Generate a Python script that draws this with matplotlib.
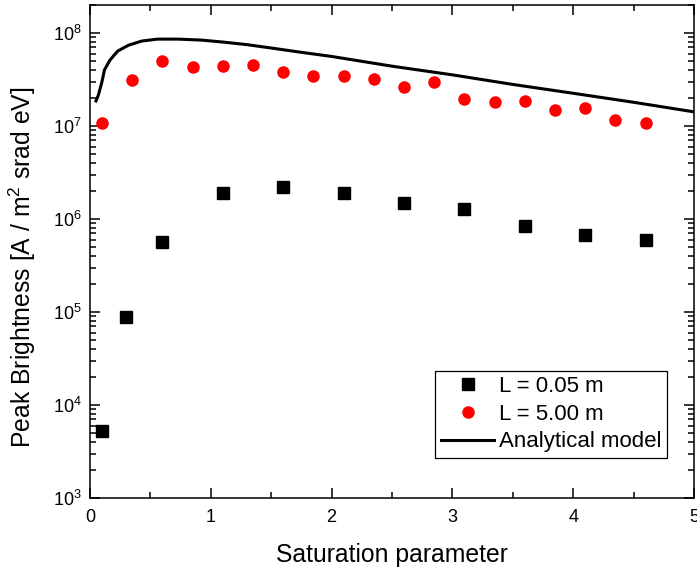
import matplotlib
matplotlib.use("Agg")
import matplotlib.pyplot as plt
from matplotlib.ticker import LogLocator, MultipleLocator, NullFormatter

plt.rcParams["font.family"] = ["Liberation Sans", "DejaVu Sans"]
plt.rcParams["mathtext.fontset"] = "custom"
plt.rcParams["mathtext.rm"] = "Liberation Sans"
plt.rcParams["mathtext.it"] = "Liberation Sans:italic"

# L = 0.05 m (squares)
x_short = [0.1, 0.3, 0.6, 1.1, 1.6, 2.1, 2.6, 3.1, 3.6, 4.1, 4.6]
y_short = [5.3e3, 8.8e4, 5.7e5, 1.9e6, 2.2e6, 1.9e6, 1.49e6, 1.28e6, 8.4e5, 6.7e5, 5.9e5]

# L = 5.00 m (circles)
x_long = [0.1, 0.35, 0.6, 0.85, 1.1, 1.35, 1.6, 1.85, 2.1, 2.35, 2.6, 2.85,
          3.1, 3.35, 3.6, 3.85, 4.1, 4.35, 4.6]
y_long = [1.08e7, 3.1e7, 4.97e7, 4.3e7, 4.4e7, 4.5e7, 3.84e7, 3.42e7, 3.45e7, 3.23e7,
          2.6e7, 2.95e7, 1.95e7, 1.81e7, 1.86e7, 1.5e7, 1.55e7, 1.17e7, 1.07e7]

# analytical model
x_model = [0.05, 0.07, 0.1, 0.12, 0.165, 0.23, 0.32, 0.43, 0.56, 0.73, 0.92, 1.1,
           1.3, 1.5, 1.75, 2.0, 2.5, 3.0, 3.5, 4.0, 4.5, 5.0]
y_model = [1.86e7, 2.15e7, 3.0e7, 4.0e7, 5.1e7, 6.4e7, 7.4e7, 8.2e7, 8.6e7, 8.6e7,
           8.4e7, 8.0e7, 7.5e7, 6.9e7, 6.2e7, 5.6e7, 4.4e7, 3.55e7, 2.8e7, 2.25e7,
           1.8e7, 1.42e7]

fig = plt.figure(figsize=(6.97, 5.72), dpi=100)
ax = fig.add_axes([0.129, 0.1294, 0.8667, 0.8618])

ax.plot(x_short, y_short, "s", color="black", markersize=8, label="L = 0.05 m")
ax.plot(x_long, y_long, "o", color="red", markersize=8, label="L = 5.00 m")
ax.plot(x_model, y_model, "-", color="black", linewidth=2.2, label="Analytical model")

ax.set_yscale("log")
ax.set_xlim(0, 5)
ax.set_ylim(1e3, 2e8)
ax.xaxis.set_major_locator(MultipleLocator(1))
ax.xaxis.set_minor_locator(MultipleLocator(0.5))
ax.yaxis.set_major_locator(LogLocator(base=10, numticks=10))
ax.yaxis.set_minor_locator(LogLocator(base=10, subs=range(2, 10), numticks=10))
ax.yaxis.set_minor_formatter(NullFormatter())

ax.tick_params(which="both", direction="in", top=True, right=True, labelsize=13, width=1.1)
ax.tick_params(which="major", length=7)
ax.tick_params(axis="x", which="major", pad=8)
ax.tick_params(axis="y", which="major", pad=6)
ax.tick_params(which="minor", length=4)
for s in ax.spines.values():
    s.set_linewidth(1.1)

ax.set_xlabel("Saturation parameter", fontsize=17.8, labelpad=12)
ax.set_ylabel("Peak Brightness [A / m$^2$ srad eV]", fontsize=17.8)
ax.yaxis.set_label_coords(-0.086, 0.469)

leg = ax.legend(loc="lower right", bbox_to_anchor=(0.955, 0.081), fontsize=16,
                frameon=True, fancybox=False, edgecolor="black", framealpha=1,
                handlelength=2.4, handletextpad=0.2, borderpad=0.25, labelspacing=0.3,
                borderaxespad=0)
leg.get_frame().set_linewidth(0.9)

fig.savefig("out.png", dpi=100)
